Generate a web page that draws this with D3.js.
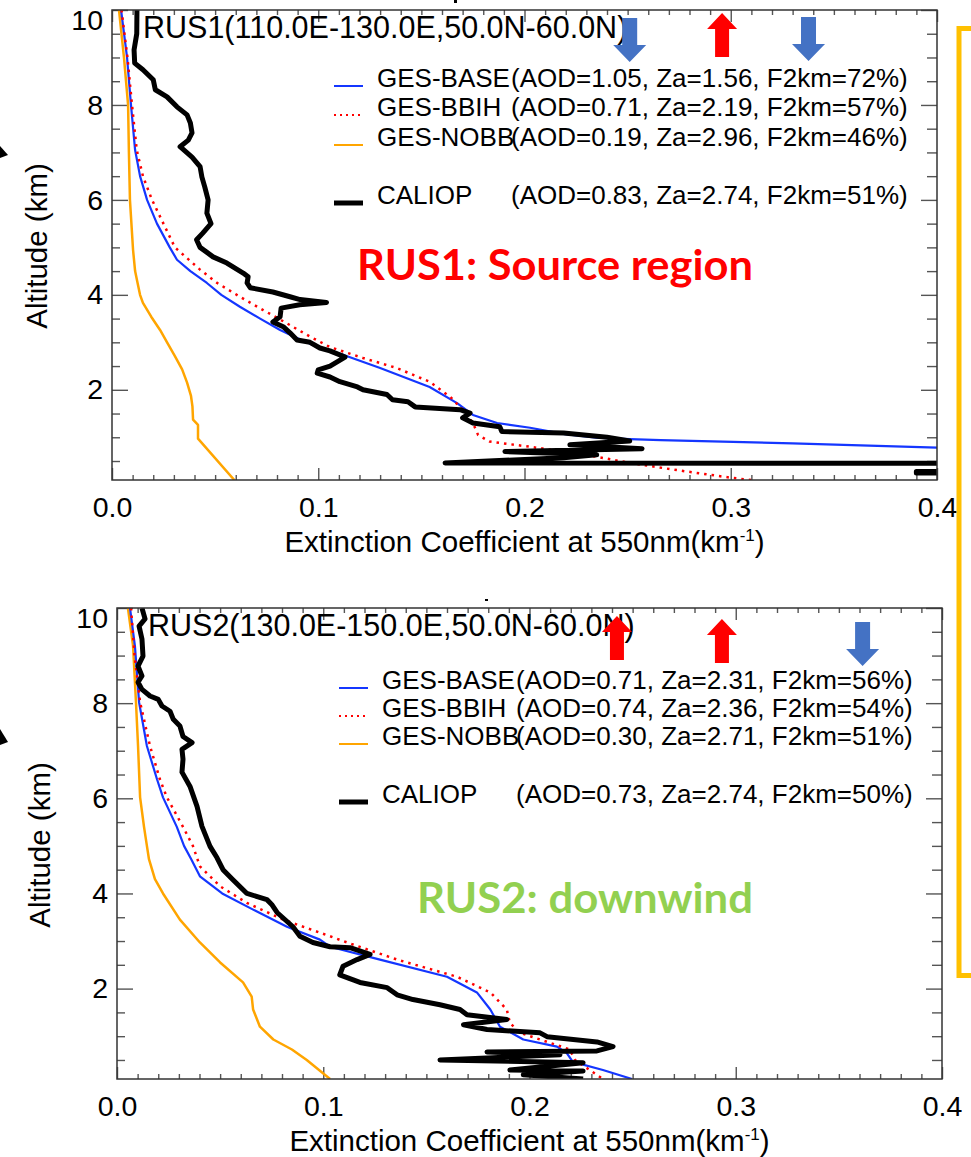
<!DOCTYPE html>
<html><head><meta charset="utf-8">
<script src="https://cdn.jsdelivr.net/npm/d3@7"></script>
<style>body{margin:0;background:#fff} svg{display:block}</style>
</head><body>
<script>
const W = 971, H = 1157;

// ---------- DATA ----------
const xTickValues = [0.0, 0.1, 0.2, 0.3, 0.4];
const yTickValues = [2, 4, 6, 8, 10];
const seriesNames = ["GES-BASE", "GES-BBIH", "GES-NOBB", "CALIOP"];

const rus1Title = "RUS1(110.0E-130.0E,50.0N-60.0N)";
const rus1Label = "RUS1: Source region";
const rus1Stats = ["(AOD=1.05, Za=1.56, F2km=72%)", "(AOD=0.71, Za=2.19, F2km=57%)",
                   "(AOD=0.19, Za=2.96, F2km=46%)", "(AOD=0.83, Za=2.74, F2km=51%)"];
const rus1Arrows = [[0.251, "down"], [0.2958, "up"], [0.3377, "down"]];

const rus1Base = [[0.0044,10],[0.0073,9],[0.0092,8],[0.0112,7.05],[0.0136,6.5],[0.017,6],[0.0218,5.5],[0.028,5.0],
  [0.0315,4.74],[0.038,4.5],[0.046,4.25],[0.053,4.0],[0.062,3.75],[0.0718,3.5],[0.0815,3.26],[0.0897,3.09],
  [0.1008,2.88],[0.112,2.74],[0.130,2.46],[0.154,2.06],[0.1673,1.72],[0.175,1.47],[0.1867,1.3],[0.2027,1.2],
  [0.2187,1.07],[0.235,0.99],[0.251,0.96],[0.266,0.94],[0.33,0.87],[0.4,0.78],[0.45,0.7]];
const rus1Bbih = [[0.0046,10],[0.0075,9],[0.0097,8],[0.012,7.05],[0.015,6.5],[0.0194,6],[0.0305,5],[0.0427,4.53],
  [0.051,4.25],[0.062,3.96],[0.0733,3.68],[0.0848,3.4],[0.096,3.12],[0.1057,2.9],[0.1217,2.67],[0.138,2.46],
  [0.154,2.17],[0.164,1.85],[0.170,1.58],[0.175,1.3],[0.1775,1.05],[0.183,0.91],[0.2027,0.8],[0.2187,0.7],
  [0.235,0.59],[0.251,0.46],[0.272,0.32],[0.2997,0.15],[0.31,0.1]];
const rus1Nobb = [[0.0034,10],[0.0058,9],[0.0078,8],[0.0082,7],[0.0087,6],[0.0102,4.95],[0.0112,4.5],[0.0124,4.25],
  [0.0136,4.0],[0.015,3.83],[0.019,3.54],[0.0233,3.26],[0.0267,3.0],[0.0305,2.71],[0.034,2.43],[0.0364,2.15],
  [0.0383,1.87],[0.039,1.65],[0.0393,1.37],[0.0417,1.26],[0.0417,0.97],[0.0593,0.1]];
const rus1Caliop = [[0.0121,10],[0.012,9.5],[0.0107,9.16],[0.011,8.88],[0.015,8.74],[0.02,8.53],[0.021,8.32],
  [0.0267,8.17],[0.0315,7.96],[0.0364,7.79],[0.038,7.62],[0.0388,7.41],[0.037,7.26],[0.033,7.12],[0.0388,6.9],
  [0.0427,6.7],[0.0436,6.48],[0.045,6.27],[0.0466,6.0],[0.046,5.72],[0.048,5.5],[0.044,5.3],[0.041,5.16],
  [0.0427,5.0],[0.049,4.8],[0.0557,4.67],[0.0636,4.46],[0.066,4.38],[0.0655,4.25],[0.067,4.15],[0.078,4.06],
  [0.0863,3.96],[0.0912,3.9],[0.104,3.84],[0.091,3.79],[0.082,3.72],[0.0815,3.54],[0.078,3.43],[0.083,3.33],
  [0.0863,3.2],[0.0897,3.05],[0.096,3.0],[0.1008,2.88],[0.1057,2.82],[0.113,2.69],[0.1057,2.5],[0.100,2.42],
  [0.0995,2.35],[0.1057,2.27],[0.1105,2.17],[0.119,2.06],[0.1217,2.0],[0.1333,1.9],[0.136,1.79],[0.1435,1.75],
  [0.147,1.64],[0.1687,1.58],[0.1736,1.51],[0.170,1.41],[0.175,1.3],[0.188,1.22],[0.189,1.12],[0.219,1.09],
  [0.24,1.0],[0.251,0.92],[0.222,0.84],[0.257,0.76],[0.1905,0.7],[0.235,0.63],[0.219,0.57],[0.1615,0.46],
  [0.42,0.45],[0.42,0.28],[0.39,0.28],[0.39,0.25],[0.42,0.25]];

const rus2Title = "RUS2(130.0E-150.0E,50.0N-60.0N)";
const rus2Label = "RUS2: downwind";
const rus2Stats = ["(AOD=0.71, Za=2.31, F2km=56%)", "(AOD=0.74, Za=2.36, F2km=54%)",
                   "(AOD=0.30, Za=2.71, F2km=51%)", "(AOD=0.73, Za=2.74, F2km=50%)"];
const rus2Arrows = [[0.2424, "up"], [0.2933, "up"], [0.3615, "down"]];

const rus2Base = [[0.0063,10],[0.0087,9.2],[0.0107,8.02],[0.0145,7.1],[0.0194,6.4],[0.0223,6.02],[0.029,5.4],
  [0.0325,5.0],[0.036,4.72],[0.0402,4.36],[0.051,4.0],[0.066,3.66],[0.0824,3.3],[0.0984,3.03],[0.1033,2.88],
  [0.1275,2.61],[0.16,2.25],[0.1745,1.92],[0.181,1.56],[0.1857,1.2],[0.197,0.93],[0.2133,0.78],[0.218,0.65],
  [0.221,0.46],[0.2356,0.29],[0.2497,0.1]];
const rus2Bbih = [[0.0068,10],[0.0085,9],[0.0112,8.02],[0.016,7.1],[0.0208,6.4],[0.0242,6.02],[0.032,5.4],
  [0.0368,5.0],[0.0402,4.57],[0.05,4.15],[0.063,3.8],[0.0806,3.45],[0.1033,3.1],[0.1115,2.97],[0.1358,2.61],
  [0.1648,2.25],[0.181,1.92],[0.189,1.56],[0.1905,1.28],[0.1954,1.07],[0.21,0.86],[0.2196,0.72],[0.222,0.5],
  [0.2356,0.1]];
const rus2Nobb = [[0.0053,10],[0.0078,9.2],[0.0092,8.02],[0.0102,7.1],[0.0112,6.02],[0.0131,5.4],[0.0145,5.0],
  [0.0155,4.72],[0.0184,4.3],[0.0223,4.0],[0.0305,3.45],[0.0402,2.97],[0.05,2.55],[0.0611,2.13],[0.0653,1.83],
  [0.066,1.56],[0.0693,1.2],[0.0758,0.93],[0.0848,0.72],[0.092,0.5],[0.1033,0.1]];
const rus2Caliop = [[0.0121,10],[0.0136,9.77],[0.0107,9.62],[0.0121,9.35],[0.0126,8.99],[0.0102,8.78],[0.0121,8.57],
  [0.0102,8.44],[0.0121,8.29],[0.016,8.15],[0.02,8.08],[0.0218,7.94],[0.0257,7.83],[0.0273,7.66],[0.0305,7.52],
  [0.032,7.3],[0.0364,7.17],[0.0315,7.03],[0.032,6.82],[0.0315,6.55],[0.0354,6.25],[0.0388,5.83],[0.0412,5.41],
  [0.0451,4.99],[0.0485,4.75],[0.0514,4.5],[0.0562,4.29],[0.063,4.0],[0.0727,3.87],[0.075,3.77],[0.0776,3.6],
  [0.0853,3.3],[0.0887,3.1],[0.095,2.97],[0.1033,2.88],[0.113,2.86],[0.1227,2.72],[0.1164,2.61],[0.1096,2.47],
  [0.108,2.29],[0.1178,2.13],[0.131,2.02],[0.1358,1.87],[0.1435,1.77],[0.1566,1.66],[0.1663,1.56],[0.1697,1.45],
  [0.189,1.35],[0.168,1.24],[0.1794,1.14],[0.2051,1.07],[0.2085,0.99],[0.2327,0.88],[0.2405,0.78],[0.2327,0.69],
  [0.1794,0.67],[0.2148,0.61],[0.1566,0.5],[0.226,0.44],[0.1905,0.29],[0.226,0.27],[0.197,0.19],[0.226,0.1]];

// ---------- LAYOUT / STYLE ----------
const styles = [
  {color:"#1436ff", width:2.2, dash:null},
  {color:"#ff0000", width:2.5, dash:"2.5,5"},
  {color:"#ffa500", width:2.5, dash:null},
  {color:"#000000", width:5, dash:null}
];
const panels = [
  {id:1, left:112, right:937, top:10, bottom:480, title:rus1Title, label:rus1Label, labelColor:"#ff0000",
   labelX:357, labelY:280, labelW:396, stats:rus1Stats, arrows:rus1Arrows, arrowTops:[8,3,7],
   data:[rus1Base, rus1Bbih, rus1Nobb, rus1Caliop], legY:87, legGap:[0,29,59,117], ylabelY:246, ylabelX:47},
  {id:2, left:117, right:942, top:608, bottom:1079, title:rus2Title, label:rus2Label, labelColor:"#92d050",
   labelX:417, labelY:913, labelW:336, stats:rus2Stats, arrows:rus2Arrows, arrowTops:[8,11,14],
   data:[rus2Base, rus2Bbih, rus2Nobb, rus2Caliop], legY:689, legGap:[0,28,56,114], ylabelY:845, ylabelX:50}
];

const FONT = "'Liberation Sans', Arial, Helvetica, sans-serif";
const svg = d3.select("body").append("svg").attr("width", W).attr("height", H)
  .style("font-family", FONT);

function drawPanel(p) {
  const x = d3.scaleLinear().domain([0, 0.4]).range([p.left, p.right]);
  const y = d3.scaleLinear().domain([0.1, 10]).range([p.bottom, p.top]);
  const g = svg.append("g");
  const clipId = "clip" + p.id;
  svg.append("clipPath").attr("id", clipId).append("rect")
    .attr("x", p.left).attr("y", p.top).attr("width", p.right - p.left).attr("height", p.bottom - p.top);

  // ticks
  const xMinor = d3.range(1, 40).filter(i => i % 10 !== 0).map(i => i / 100);
  const yMinor = d3.range(1, 20).filter(i => i % 4 !== 0).map(i => i / 2);
  const tickStyle = sel => { sel.select(".domain").remove();
    sel.selectAll("line").attr("stroke", "#555").attr("stroke-width", 1.4);
    sel.selectAll("text").attr("fill", "#000").style("font-size", "28.5px").style("font-family", FONT); };

  g.append("g").attr("transform", `translate(0,${p.bottom})`)
    .call(d3.axisBottom(x).tickValues(xTickValues).tickSize(-12).tickPadding(17).tickFormat(d3.format(".1f"))).call(tickStyle);
  g.append("g").attr("transform", `translate(0,${p.bottom})`)
    .call(d3.axisBottom(x).tickValues(xMinor).tickSize(-5).tickFormat("")).call(tickStyle);
  g.append("g").attr("transform", `translate(0,${p.top})`)
    .call(d3.axisTop(x).tickValues(xTickValues).tickSize(-12).tickFormat("")).call(tickStyle);
  g.append("g").attr("transform", `translate(0,${p.top})`)
    .call(d3.axisTop(x).tickValues(xMinor).tickSize(-5).tickFormat("")).call(tickStyle);
  const yl = g.append("g").attr("transform", `translate(${p.left},0)`)
    .call(d3.axisLeft(y).tickValues(yTickValues).tickSize(-16).tickPadding(9).tickFormat(d3.format("d"))).call(tickStyle);
  yl.selectAll("text").filter(d => d === 10).attr("dy", "0.68em");
  g.append("g").attr("transform", `translate(${p.left},0)`)
    .call(d3.axisLeft(y).tickValues(yMinor).tickSize(-8).tickFormat("")).call(tickStyle);
  g.append("g").attr("transform", `translate(${p.right},0)`)
    .call(d3.axisRight(y).tickValues(yTickValues).tickSize(-16).tickFormat("")).call(tickStyle);
  g.append("g").attr("transform", `translate(${p.right},0)`)
    .call(d3.axisRight(y).tickValues(yMinor).tickSize(-10).tickFormat("")).call(tickStyle);

  // data lines
  const line = d3.line().x(d => x(d[0])).y(d => y(d[1]));
  const lg = g.append("g").attr("clip-path", `url(#${clipId})`);
  [2, 0, 1, 3].forEach(i => {
    const s = styles[i];
    lg.append("path").datum(p.data[i]).attr("d", line).attr("fill", "none")
      .attr("stroke", s.color).attr("stroke-width", s.width)
      .attr("stroke-dasharray", s.dash).attr("stroke-linejoin", "round");
  });

  // frame
  g.append("rect").attr("x", p.left).attr("y", p.top).attr("width", p.right - p.left).attr("height", p.bottom - p.top)
    .attr("fill", "none").attr("stroke", "#333").attr("stroke-width", 1.5);

  // title
  g.append("text").attr("x", p.left + 31).attr("y", p.top + 28).text(p.title)
    .style("font-size", "30.5px").attr("fill", "#000");

  // legend
  seriesNames.forEach((n, i) => {
    const by = p.legY + p.legGap[i];
    const s = styles[i];
    g.append("line").attr("x1", p.left + 222).attr("x2", p.left + 251).attr("y1", by - 1).attr("y2", by - 1)
      .attr("stroke", s.color).attr("stroke-width", i === 3 ? 5 : 2).attr("stroke-dasharray", s.dash ? "2,4" : null);
    g.append("text").attr("x", p.left + 265).attr("y", by).text(n).style("font-size", "26px");
    g.append("text").attr("x", p.left + 399).attr("y", by).text(p.stats[i]).style("font-size", "26px");
  });

  // big label
  g.append("text").attr("x", p.labelX).attr("y", p.labelY).text(p.label)
    .attr("fill", p.labelColor).style("font-family", "Lato, 'Open Sans', sans-serif").style("font-weight", "bold")
    .style("font-size", "42px").attr("textLength", p.labelW).attr("lengthAdjust", "spacingAndGlyphs");

  // arrows
  p.arrows.forEach((a, i) => {
    const cx = x(a[0]), t = p.top + p.arrowTops[i];
    let pts;
    if (a[1] === "down") {
      pts = [[cx-7.5,t],[cx+7.5,t],[cx+7.5,t+27],[cx+16.5,t+27],[cx,t+44],[cx-16.5,t+27],[cx-7.5,t+27]];
      g.append("polygon").attr("points", pts.map(q => q.join(",")).join(" ")).attr("fill", "#4472c4");
    } else {
      pts = [[cx,t],[cx+15,t+16],[cx+7,t+16],[cx+7,t+44],[cx-7,t+44],[cx-7,t+16],[cx-15,t+16]];
      g.append("polygon").attr("points", pts.map(q => q.join(",")).join(" ")).attr("fill", "#ff0000");
    }
  });

  // axis titles
  const xt = g.append("text").attr("x", (p.left + p.right) / 2 + 0).attr("y", p.bottom + 72)
    .attr("text-anchor", "middle").style("font-size", "29.5px");
  xt.append("tspan").text("Extinction Coefficient at 550nm(km");
  xt.append("tspan").text("-1").style("font-size", "17px").attr("dy", -11);
  xt.append("tspan").text(")").attr("dy", 11);
  g.append("text").attr("transform", `translate(${p.ylabelX},${p.ylabelY}) rotate(-90)`)
    .attr("text-anchor", "middle").style("font-size", "29.5px").text("Altitude (km)");
}

panels.forEach(drawPanel);

// decorations: partial arrowheads on the left edge, yellow bracket, tiny marks
svg.append("polygon").attr("points", "0,146 8,155 0,158").attr("fill", "#000");
svg.append("polygon").attr("points", "0,729 8,742 0,745").attr("fill", "#000");
svg.append("rect").attr("x", 454).attr("y", 0).attr("width", 3).attr("height", 3).attr("fill", "#000");
svg.append("rect").attr("x", 485).attr("y", 599).attr("width", 3).attr("height", 2).attr("fill", "#000");
svg.append("path").attr("d", "M975,28.5 H959 V975.5 H975").attr("fill", "none")
  .attr("stroke", "#ffc000").attr("stroke-width", 5);
</script>
</body></html>
